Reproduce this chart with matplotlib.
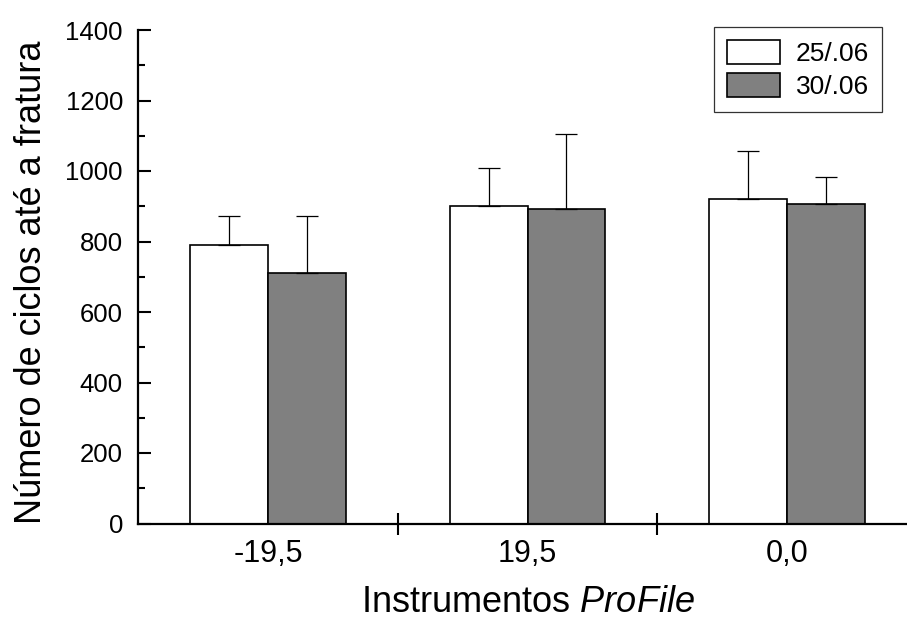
import matplotlib
matplotlib.use("Agg")
import matplotlib.pyplot as plt
from matplotlib.ticker import MultipleLocator, FixedLocator, NullFormatter
import numpy as np

plt.rcParams['font.family'] = ['Liberation Sans', 'DejaVu Sans']
plt.rcParams['mathtext.fontset'] = 'custom'
plt.rcParams['mathtext.rm'] = 'Liberation Sans'
plt.rcParams['mathtext.it'] = 'Liberation Sans:italic'

categories = ['-19,5', '19,5', '0,0']
series_names = ['25/.06', '30/.06']
values_25 = [790, 900, 920]
errors_25 = [83, 108, 137]
values_30 = [710, 893, 907]
errors_30 = [163, 213, 75]

W, H = 907, 620
fig = plt.figure(figsize=(W / 100, H / 100), dpi=100)
ax = fig.add_axes([138.25 / W, (H - 523.5) / H, 778.5 / W, 493.5 / H])

x = np.arange(len(categories))
bw = 0.3
ekw = dict(elinewidth=0.9, capthick=0.9, ecolor='black')
ax.bar(x - bw / 2, values_25, bw, color='white', edgecolor='black', linewidth=1.2,
       yerr=[np.zeros(3), errors_25], capsize=8, error_kw=ekw, label=series_names[0], zorder=2)
ax.bar(x + bw / 2, values_30, bw, color='#808080', edgecolor='black', linewidth=1.2,
       yerr=[np.zeros(3), errors_30], capsize=8, error_kw=ekw, label=series_names[1], zorder=2)

ax.set_xlim(-0.5, 2.5)
ax.set_ylim(0, 1400)

for s in ['top', 'right']:
    ax.spines[s].set_visible(False)
for s in ['left', 'bottom']:
    ax.spines[s].set_linewidth(1.6)

ax.yaxis.set_major_locator(MultipleLocator(200))
ax.yaxis.set_minor_locator(MultipleLocator(100))
ax.tick_params(axis='y', which='major', direction='in', length=9.5, width=1.5,
               labelsize=18.5, pad=11)
ax.tick_params(axis='y', which='minor', direction='in', length=5, width=1.5)

# category labels at group centers (no tick marks), ticks at boundaries
ax.set_xticks(x)
ax.set_xticklabels(categories)
ax.tick_params(axis='x', which='major', length=0, labelsize=22, pad=11)
ax.xaxis.set_minor_locator(FixedLocator([0.5, 1.5]))
ax.xaxis.set_minor_formatter(NullFormatter())
ax.tick_params(axis='x', which='minor', direction='inout', length=16, width=1.5)

ax.set_xlabel('Instrumentos $\\mathit{ProFile}$', fontsize=26, labelpad=12)
ax.set_ylabel('Número de ciclos até a fratura', fontsize=26, labelpad=12)
ax.yaxis.label.set_y(0.488)

leg = ax.legend(loc='upper right', bbox_to_anchor=(882 / W, 1 - 27 / H),
                bbox_transform=fig.transFigure, borderaxespad=0, fontsize=19,
                frameon=True, fancybox=False, handlelength=2.0, handleheight=1.0,
                labelspacing=0.28, handletextpad=0.6, borderpad=0.5)
leg.get_frame().set_edgecolor('black')
leg.get_frame().set_linewidth(0.9)

fig.savefig('out.png', dpi=100)
